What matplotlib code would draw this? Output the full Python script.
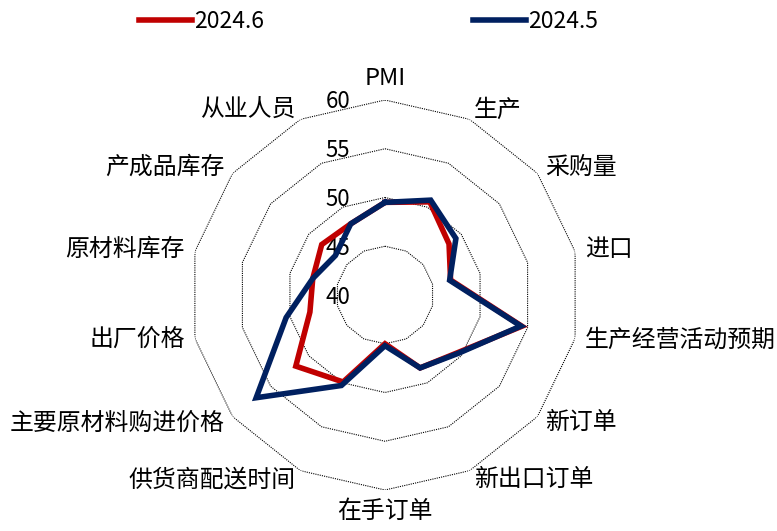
import numpy as np
import matplotlib
matplotlib.use("Agg")
import matplotlib.pyplot as plt

plt.rcParams['font.family'] = ['Noto Sans CJK SC', 'DejaVu Sans']

# ── Data ──────────────────────────────────────────────────────────────────────
categories = ['PMI', '生产', '采购量', '进口', '生产经营活动预期', '新订单', '新出口订单',
              '在手订单', '供货商配送时间', '主要原材料购进价格', '出厂价格', '原材料库存',
              '产成品库存', '从业人员']
jun_2024 = [49.5, 50.6, 48.4, 46.9, 54.4, 49.5, 48.3, 45.0, 49.9, 51.7, 47.9, 47.6, 48.3, 48.1]
may_2024 = [49.5, 50.8, 49.3, 46.8, 54.3, 49.6, 48.3, 45.2, 50.3, 56.9, 50.4, 47.6, 46.5, 48.1]
ring_values = [40, 45, 50, 55, 60]
series_labels = ['2024.6', '2024.5']
series_colors = ['#C00000', '#002060']

# ── Figure ────────────────────────────────────────────────────────────────────
W, H = 777, 531
fig = plt.figure(figsize=(W / 100, H / 100), dpi=100)
cx, cy, R = 385, 295, 195
ax = fig.add_axes([(cx - R) / W, (H - cy - R) / H, 2 * R / W, 2 * R / H], projection='polar')
ax.set_theta_zero_location('N')
ax.set_theta_direction(-1)
ax.set_ylim(40, 60)
ax.grid(False)
ax.spines['polar'].set_visible(False)
ax.set_xticks([])
ax.set_yticks([])
ax.patch.set_alpha(0)

n = len(categories)
angles = np.linspace(0, 2 * np.pi, n, endpoint=False)
closed = np.append(angles, angles[0])

# polygon grid rings
for v in ring_values[1:]:
    ax.plot(closed, [v] * (n + 1), color='black', lw=0.8, ls=(0, (1, 1)), zorder=1)

# ring labels
for v in ring_values:
    ax.annotate(str(v), xy=(0, v), xytext=(-47, -2), textcoords='offset pixels',
                ha='center', va='center', fontsize=16, color='black', zorder=2)

# series
lines = []
for vals, lab, col in zip([jun_2024, may_2024], series_labels, series_colors):
    ln, = ax.plot(closed, vals + vals[:1], color=col, lw=4.0, label=lab,
                  solid_joinstyle='miter', zorder=3)
    lines.append(ln)

# category labels
r_lab = 61.05
for a, c in zip(angles, categories):
    s, co = np.sin(a), np.cos(a)
    if abs(s) < 1e-6:
        ha, va = 'center', ('bottom' if co > 0 else 'top')
    else:
        ha, va = ('left' if s > 0 else 'right'), 'center'
    ax.text(a, r_lab, c, ha=ha, va=va, fontsize=17.2, clip_on=False)

fig.legend(handles=lines, loc='upper left', bbox_to_anchor=(139 / W, 1 - 10 / H),
           ncol=2, frameon=False, fontsize=16.5, handlelength=2.3, handletextpad=0.12,
           columnspacing=9.1, borderpad=0, borderaxespad=0)

fig.savefig('out.png', dpi=100)
